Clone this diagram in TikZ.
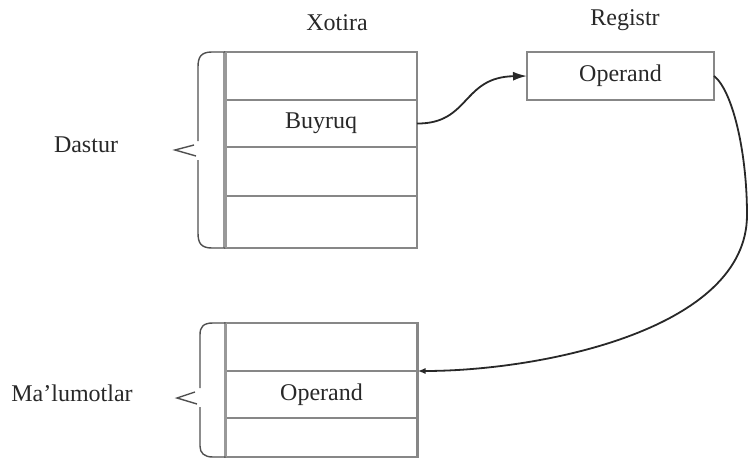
\documentclass[tikz,border=0pt]{standalone}
\usepackage{fontspec}
\setmainfont{Liberation Serif}
\usetikzlibrary{arrows.meta}
\definecolor{cellgray}{RGB}{135,135,135}
\definecolor{inkgray}{RGB}{40,40,40}
\definecolor{bracegray}{RGB}{80,80,80}
\tikzset{
  cell/.style={draw=cellgray, line width=2.6pt, minimum width=192pt, outer sep=0pt,
               inner sep=0pt, text=inkgray, font=\fontsize{24}{27}\selectfont},
  lbl/.style={text=inkgray, inner sep=0pt, font=\fontsize{24}{27}\selectfont},
  brace/.style={draw=bracegray, line width=1.4pt},
  leftrule/.style={draw=cellgray!85, line width=3.6pt},
  link/.style={draw=inkgray, line width=1.8pt}
}
\begin{document}
\begin{tikzpicture}[x=1pt,y=-1pt]
\useasboundingbox (0,0) rectangle (748,471);

% memory column: program part
\node[cell, minimum height=48pt] (m1) at (321,76)    {};
\node[cell, minimum height=47pt] (m2) at (321,123.5) {Buyruq};
\node[cell, minimum height=49pt] (m3) at (321,171.5) {};
\node[cell, minimum height=52pt] (m4) at (321,222)   {};
\draw[leftrule] (m1.north west) -- (m4.south west);

% memory column: data part
\node[cell, minimum height=48pt] (d1) at (321.5,347)   {};
\node[cell, minimum height=47pt] (d2) at (321.5,394.5) {Operand};
\node[cell, minimum height=39pt] (d3) at (321.5,437.5) {};
\draw[leftrule] (d1.north west) -- (d3.south west);

% register
\node[cell, minimum width=187pt, minimum height=48pt] (reg) at (620.5,76) {Operand};

% headings and group labels
\node[lbl] (xotira)  at (337,23)  {Xotira};
\node[lbl] (registr) at (625,20)  {Registr};
\node[lbl] (dastur)  at (86,145)  {Dastur};
\node[lbl] (malum)   at (72,393)  {Ma’lumotlar};

% brace of the program part
\draw[brace] (m1.north west) -- (212,52) .. controls (201,52) and (198,57) .. (198,67) -- (198,141);
\draw[brace] (198,160) -- (198,233) .. controls (198,243) and (201,248) .. (212,248) -- (m4.south west);
\draw[brace] (194,145) -- (175,150) -- (196,156);

% brace of the data part
\draw[brace] (d1.north west) -- (213,323) .. controls (203,323) and (200,327) .. (200,335) -- (200,388);
\draw[brace] (200,407) -- (200,446) .. controls (200,453) and (204,457) .. (213,457) -- (d3.south west);
\draw[brace] (195,392) -- (177,398) -- (197,404);

% instruction fetches its operand into the register
\draw[link, -{Latex[length=14pt,width=9pt]}]
  (m2.east) .. controls (470,124) and (462,77) .. (reg.west);

% the register operand goes back to the data cell
\draw[link, -{Latex[length=8pt,width=6pt]}]
  (reg.east) .. controls (732,90) and (747,150) .. (747,215)
  .. controls (747,330) and (540,371) .. (d2.north east);
\end{tikzpicture}
\end{document}
